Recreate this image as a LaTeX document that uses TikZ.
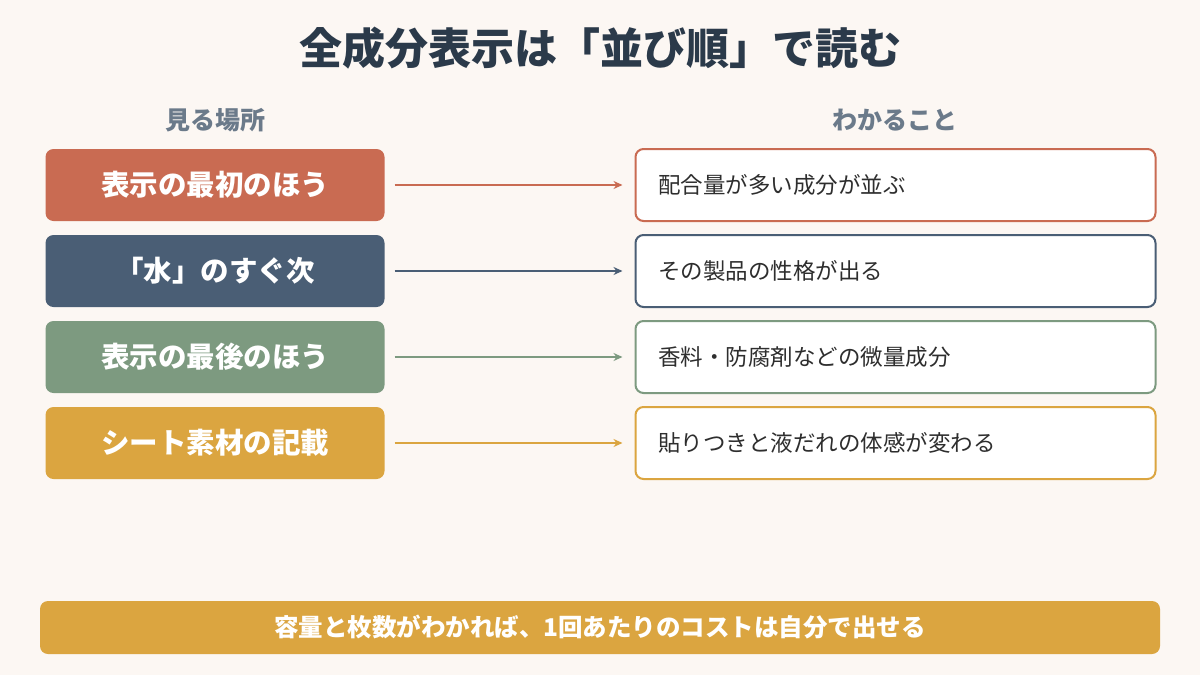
\documentclass[tikz,border=0pt]{standalone}
\usepackage{fontspec}
\setmainfont{Noto Sans CJK JP}
\usetikzlibrary{positioning}
\usetikzlibrary{arrows.meta}
\definecolor{bg}{HTML}{FCF7F3}
\definecolor{navy}{HTML}{2B3A4A}
\definecolor{gray}{HTML}{6B7A8A}
\definecolor{rust}{HTML}{C96B52}
\definecolor{slate}{HTML}{4A5E75}
\definecolor{sage}{HTML}{7D9A80}
\definecolor{mustard}{HTML}{DBA540}
\definecolor{ink}{HTML}{2E2E2E}

\tikzset{
  place/.style={rounded corners=8pt, minimum width=339pt, minimum height=72pt, text=white, font=\fontsize{28.5}{32}\selectfont\bfseries},
  meaning/.style={rounded corners=8pt, draw, line width=2pt, fill=white, minimum width=520pt, minimum height=72pt, text width=475pt, align=left, text=ink, font=\fontsize{22.5}{26}\selectfont},
  link/.style={line width=1.5pt, -{Stealth[length=9pt,width=8pt]}},
  head/.style={text=gray, font=\fontsize{25}{29}\selectfont\bfseries}
}

\begin{document}
\begin{tikzpicture}[x=1pt, y=-1pt]
    % background
    \fill[bg] (0,0) rectangle (1200,675);
    \useasboundingbox (0,0) rectangle (1200,675);

    % title and headers
    \node[text=navy, font=\fontsize{43}{48}\selectfont\bfseries] (title) at (600,48) {全成分表示は「並び順」で読む};
    \node[head] (lhead) at (215,120) {見る場所};
    \node[head] (rhead) at (895,120) {わかること};

    % left boxes
    \node[place, fill=rust] (p1) at (215,185) {表示の最初のほう};
    \node[place, fill=slate] (p2) at (215,271) {「水」のすぐ次};
    \node[place, fill=sage] (p3) at (215,357) {表示の最後のほう};
    \node[place, fill=mustard] (p4) at (215,443) {シート素材の記載};

    % right boxes
    \node[meaning, draw=rust] (m1) at (895.5,185) {配合量が多い成分が並ぶ};
    \node[meaning, draw=slate] (m2) at (895.5,271) {その製品の性格が出る};
    \node[meaning, draw=sage] (m3) at (895.5,357) {香料・防腐剤などの微量成分};
    \node[meaning, draw=mustard] (m4) at (895.5,443) {貼りつきと液だれの体感が変わる};

    % arrows
    \draw[link, rust] ([xshift=10pt]p1.east) -- ([xshift=-12pt]m1.west);
    \draw[link, slate] ([xshift=10pt]p2.east) -- ([xshift=-12pt]m2.west);
    \draw[link, sage] ([xshift=10pt]p3.east) -- ([xshift=-12pt]m3.west);
    \draw[link, mustard] ([xshift=10pt]p4.east) -- ([xshift=-12pt]m4.west);

    % bottom bar
    \node[rounded corners=8pt, fill=mustard, minimum width=1120pt, minimum height=53pt, text=white, font=\fontsize{24.5}{28}\selectfont\bfseries] (note) at (600,627.5) {容量と枚数がわかれば、1回あたりのコストは自分で出せる};
\end{tikzpicture}
\end{document}
